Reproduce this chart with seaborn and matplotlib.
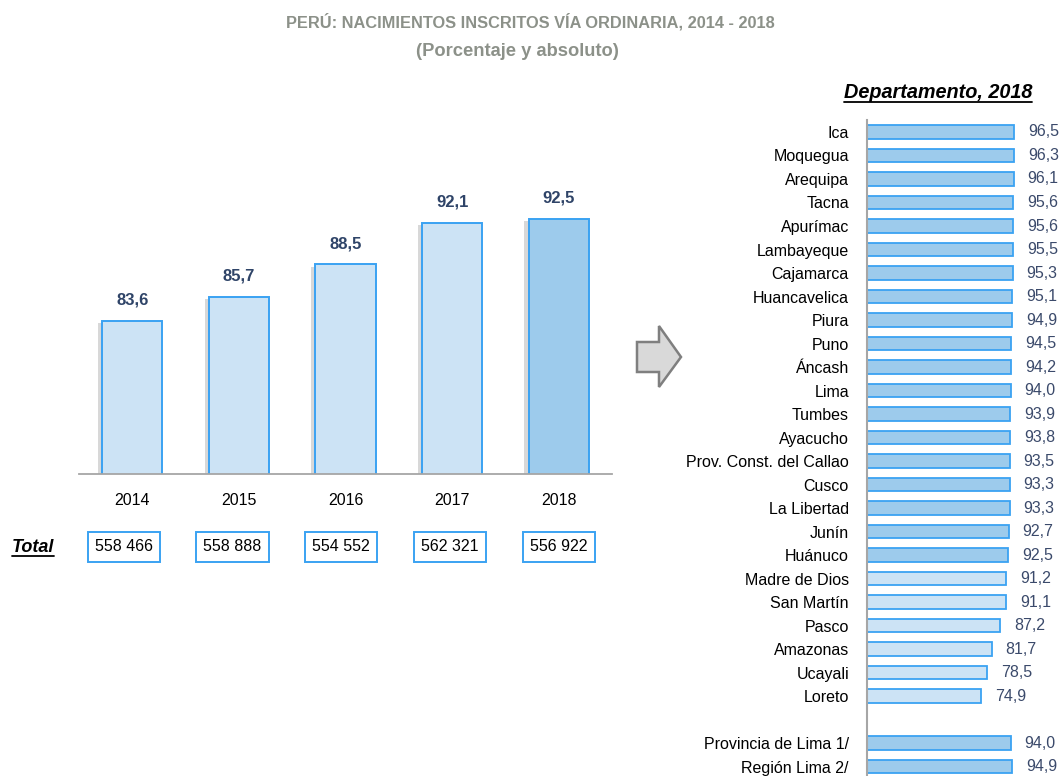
import matplotlib
matplotlib.use("Agg")
import matplotlib.pyplot as plt
import matplotlib.patheffects as pe
from matplotlib.patches import Polygon
from matplotlib.lines import Line2D
import pandas as pd
import seaborn as sns

# --- data ---------------------------------------------------------------
anios = ["2014", "2015", "2016", "2017", "2018"]
porcentaje = [83.6, 85.7, 88.5, 92.1, 92.5]
total = ["558 466", "558 888", "554 552", "562 321", "556 922"]

departamentos = ["Ica", "Moquegua", "Arequipa", "Tacna", "Apurímac", "Lambayeque",
                 "Cajamarca", "Huancavelica", "Piura", "Puno", "Áncash", "Lima",
                 "Tumbes", "Ayacucho", "Prov. Const. del Callao", "Cusco",
                 "La Libertad", "Junín", "Huánuco", "Madre de Dios", "San Martín",
                 "Pasco", "Amazonas", "Ucayali", "Loreto"]
valores_dep = [96.5, 96.3, 96.1, 95.6, 95.6, 95.5, 95.3, 95.1, 94.9, 94.5, 94.2,
               94.0, 93.9, 93.8, 93.5, 93.3, 93.3, 92.7, 92.5, 91.2, 91.1, 87.2,
               81.7, 78.5, 74.9]
lima_labels = ["Provincia de Lima 1/", "Región Lima 2/"]
lima_valores = [94.0, 94.9]
nacional_2018 = 92.5

# --- style --------------------------------------------------------------
sns.set_theme(style="white")
plt.rcParams["font.family"] = ["Liberation Sans", "DejaVu Sans"]

W, H = 1061, 776
CLARO = "#CCE3F5"
OSCURO = "#9DCBEC"
BORDE = "#3AA2F2"
NAVY = "#2F4468"
GRIS = "#A6A6A6"


def fx(px):
    return px / W


def fy(py):
    return 1 - py / H


fig = plt.figure(figsize=(W / 100, H / 100), dpi=100)

# --- left: yearly bars --------------------------------------------------
ax = fig.add_axes([fx(79), fy(474), fx(612 - 79), (474 - 150) / H])
df_l = pd.DataFrame({"anio": anios, "pct": porcentaje})
pal_l = {a: (OSCURO if a == anios[-1] else CLARO) for a in anios}
sns.barplot(data=df_l, x="anio", y="pct", hue="anio", palette=pal_l, legend=False,
            width=0.565, edgecolor=BORDE, linewidth=1.4, saturation=1, ax=ax)
for p in ax.patches:
    p.set_path_effects([pe.SimplePatchShadow(offset=(-3, -1.5), shadow_rgbFace="#909090",
                                             alpha=0.35), pe.Normal()])
ax.set_ylim(70.2, 98.5)
ax.set_xlim(-0.5, 4.5)
for i, v in enumerate(porcentaje):
    ax.annotate(f"{v:.1f}".replace(".", ","), (i, v), xytext=(0, 15),
                textcoords="offset points", ha="center", va="center",
                fontsize=12, fontweight="bold", color=NAVY)
ax.set_xlabel("")
ax.set_ylabel("")
ax.set_yticks([])
ax.tick_params(axis="x", length=0, pad=14, labelsize=11.5, labelcolor="black")
for s in ["top", "right", "left"]:
    ax.spines[s].set_visible(False)
ax.spines["bottom"].set_color(GRIS)
ax.spines["bottom"].set_linewidth(1.3)

for i, t in enumerate(total):
    ax.text(i - 0.08 * (1 - i / 4), -0.225, t, transform=ax.get_xaxis_transform(),
            ha="center", va="center", fontsize=11.5, color="black",
            bbox=dict(boxstyle="square,pad=0.45", fc="white", ec=BORDE, lw=1.4))

# --- right: departments -------------------------------------------------
ax2 = fig.add_axes([fx(867), 0, 1 - fx(867), (H - 120) / H])
orden = departamentos + [" "] + lima_labels
df_r = pd.DataFrame({"dep": departamentos + lima_labels,
                     "val": valores_dep + lima_valores})
pal_r = {d: (OSCURO if v >= nacional_2018 else CLARO)
         for d, v in zip(df_r["dep"], df_r["val"])}
sns.barplot(data=df_r, y="dep", x="val", order=orden, hue="dep", palette=pal_r,
            legend=False, width=0.58, edgecolor=BORDE, linewidth=1.3, saturation=1,
            orient="h", ax=ax2)
ax2.set_xlim(0, 127)
ax2.set_ylim(27.4, -0.51)
for d, v in zip(df_r["dep"], df_r["val"]):
    ax2.annotate(f"{v:.1f}".replace(".", ","), (v, orden.index(d)), xytext=(10, 0),
                 textcoords="offset points", ha="left", va="center",
                 fontsize=11.5, color="#3B4A6B")
ax2.set_xlabel("")
ax2.set_ylabel("")
ax2.set_xticks([])
ax2.tick_params(axis="y", length=0, pad=13, labelsize=11.5, labelcolor="black")
for s in ["top", "right", "bottom"]:
    ax2.spines[s].set_visible(False)
ax2.spines["left"].set_color(GRIS)
ax2.spines["left"].set_linewidth(1.5)

# --- texts --------------------------------------------------------------
fig.text(fx(530), fy(22), "PERÚ: NACIMIENTOS INSCRITOS VÍA ORDINARIA, 2014 - 2018",
         ha="center", va="center", fontsize=11.8, fontweight="bold", color="#8C9189")
fig.text(fx(517), fy(52), "(Porcentaje y absoluto)", ha="center", va="center",
         fontsize=13.2, fontweight="bold", color="#8C9189")
t_dep = fig.text(fx(938), fy(93), "Departamento, 2018", ha="center", va="center",
                 fontsize=14.3, fontweight="bold", style="italic", color="black")
t_tot = fig.text(fx(33), fy(548), "Total", ha="center", va="center",
                 fontsize=13, fontweight="bold", style="italic", color="black")

# underline the two italic headings
fig.canvas.draw()
r = fig.canvas.get_renderer()
for t in (t_dep, t_tot):
    bb = t.get_window_extent(r)
    yy = bb.y0 + 1
    fig.add_artist(Line2D([bb.x0 / W, bb.x1 / W], [yy / H, yy / H],
                          color="black", lw=1.3, transform=fig.transFigure))

# arrow
flecha = [(637, 342), (659, 342), (659, 326), (681, 357), (659, 387),
          (659, 372), (637, 372)]
fig.add_artist(Polygon([(fx(x), fy(y)) for x, y in flecha], closed=True,
                       fc="#D9D9D9", ec="#7F7F7F", lw=1.8,
                       transform=fig.transFigure))

fig.savefig("out.png", dpi=100)
